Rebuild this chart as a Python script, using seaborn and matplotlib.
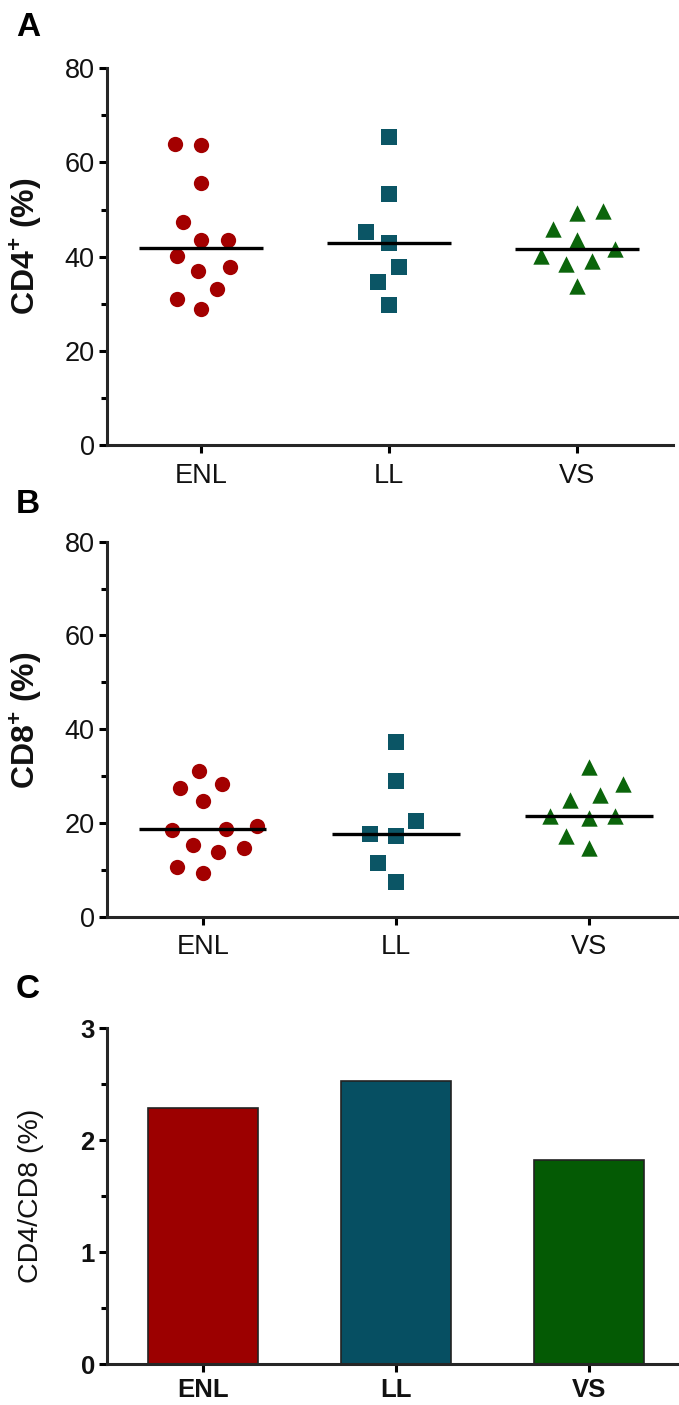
import numpy as np
import pandas as pd
import matplotlib
matplotlib.use("Agg")
import matplotlib.pyplot as plt
from matplotlib.ticker import MultipleLocator
from matplotlib.transforms import Affine2D
import seaborn as sns

# ---------------- data ----------------
groups = ["ENL", "LL", "VS"]
cd4_enl = [63.7, 64.0, 55.7, 47.4, 43.6, 43.6, 40.1, 37.8, 36.9, 33.2, 31.0, 28.9]
cd4_ll = [65.5, 53.2, 45.3, 42.9, 37.9, 34.6, 29.8]
cd4_vs = [49.6, 49.3, 45.9, 43.5, 41.7, 40.1, 39.1, 38.5, 33.7]
cd8_enl = [31.1, 28.4, 27.4, 24.7, 19.3, 18.8, 18.6, 15.4, 14.6, 13.7, 10.7, 9.4]
cd8_ll = [37.3, 29.0, 20.5, 17.6, 17.2, 11.5, 7.5]
cd8_vs = [32.0, 28.4, 25.9, 24.9, 21.5, 21.5, 21.1, 17.3, 14.6]
ratio = [2.29, 2.53, 1.82]
yticks_ab = [0, 20, 40, 60, 80]
yticks_c = [0, 1, 2, 3]

marker_colors = ["#A30000", "#0B5565", "#0B650B"]
bar_colors = ["#9C0000", "#064F62", "#045A04"]
markers = ["o", "s", "^"]
marker_sizes = [11.0, 10.8, 11.8]
swarm_spacing = 18.0  # marker footprint used for the swarm layout (points)

sns.set_style("ticks")
plt.rcParams["font.family"] = ["Liberation Sans", "DejaVu Sans"]
plt.rcParams["mathtext.fontset"] = "custom"
plt.rcParams["mathtext.rm"] = "Liberation Sans"
plt.rcParams["mathtext.bf"] = "Liberation Sans:bold"
plt.rcParams["axes.linewidth"] = 2.2

W, H = 679, 1405
fig = plt.figure(figsize=(W / 100, H / 100), dpi=100)


def frame(px_left, px_right, px_top, px_bottom):
    return [px_left / W, 1 - px_bottom / H, (px_right - px_left) / W, (px_bottom - px_top) / H]


def style_axis(ax, bold_ticks=False, size=19.5, xpad=7):
    sns.despine(ax=ax)
    ax.tick_params(axis="both", which="major", length=5.8, width=2.2, labelsize=size,
                   color="black", labelcolor="#111111")
    ax.tick_params(axis="y", which="major", pad=3)
    ax.tick_params(axis="x", which="major", pad=xpad)
    ax.tick_params(axis="y", which="minor", length=4.5, width=2.2, color="black")
    for lab in ax.get_xticklabels() + ax.get_yticklabels():
        lab.set_fontweight("bold" if bold_ticks else "normal")


def dot_panel(ax, series, ylabel):
    df = pd.concat([pd.DataFrame({"group": g, "value": v}) for g, v in zip(groups, series)],
                   ignore_index=True)
    for g, c, m, s in zip(groups, marker_colors, markers, marker_sizes):
        n_before = len(ax.collections)
        sns.swarmplot(data=df[df["group"] == g], x="group", y="value", order=groups,
                      color=c, marker=m, size=swarm_spacing, linewidth=0, ax=ax, zorder=3)
        shrink = s / swarm_spacing
        for coll in ax.collections[n_before:]:
            coll.set_paths([p.transformed(Affine2D().scale(shrink)) for p in coll.get_paths()])
    sns.boxplot(data=df, x="group", y="value", order=groups, width=0.66,
                showbox=False, showcaps=False, showfliers=False,
                whiskerprops={"visible": False},
                medianprops={"color": "black", "linewidth": 2.4, "zorder": 6},
                ax=ax)
    ax.set_ylim(0, 80)
    ax.set_yticks(yticks_ab)
    ax.yaxis.set_minor_locator(MultipleLocator(10))
    ax.set_xlabel("")
    ax.set_ylabel(ylabel, fontsize=23, fontweight="bold", color="#111111")
    return df


# Panel A
axA = fig.add_axes(frame(107, 673, 68.3, 445))
dot_panel(axA, [cd4_enl, cd4_ll, cd4_vs], r"CD4$^{\mathbf{+}}$ (%)")
axA.set_xlim(-0.503, 2.512)
style_axis(axA)
axA.yaxis.set_label_coords(-0.112, 0.528)

# Panel B
axB = fig.add_axes(frame(107, 679, 541.7, 916.7))
dot_panel(axB, [cd8_enl, cd8_ll, cd8_vs], r"CD8$^{\mathbf{+}}$ (%)")
axB.set_xlim(-0.496, 2.467)
style_axis(axB)
axB.yaxis.set_label_coords(-0.111, 0.5245)

# Panel C
axC = fig.add_axes(frame(107, 679, 1028.3, 1364.3))
sns.barplot(x=groups, y=ratio, hue=groups, palette=bar_colors, width=0.57,
            edgecolor="#222222", linewidth=1.2, legend=False, ax=axC, saturation=1)
axC.set_ylim(0, 3)
axC.set_yticks(yticks_c)
axC.yaxis.set_minor_locator(MultipleLocator(0.5))
axC.set_xlim(-0.496, 2.467)
axC.set_ylabel("CD4/CD8 (%)", fontsize=20.5, color="#111111")
style_axis(axC, bold_ticks=True, size=18.5, xpad=4)
axC.yaxis.set_label_coords(-0.11, 0.5)

# Panel letters
for letter, base in [("A", 36), ("B", 513), ("C", 998)]:
    fig.text(16 / W, 1 - base / H, letter, fontsize=24, fontweight="bold",
             va="baseline", ha="left", color="black")

fig.savefig("out.png", dpi=100)
